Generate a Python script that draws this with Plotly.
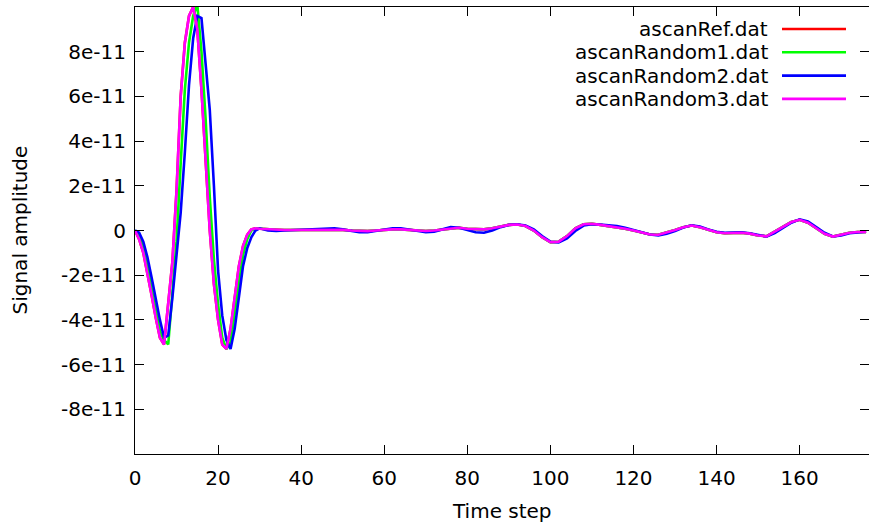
import plotly.graph_objects as go

# ---------------- data (amplitudes in units of 1e-11) ----------------
SCALE = 1e-11

time_pulse = list(range(0, 31))
time_tail = list(range(32, 177, 2))

ref_pulse = [0, -0.4, -1.0, -1.9, -2.9, -3.9, -4.8, -5.1, -3.4, -1.4, 1.8, 6.0, 8.4, 9.6, 10.0,
             9.0, 6.3, 3.0, 0.0, -2.4, -4.0, -5.1, -5.3, -4.4, -3.0, -1.6, -0.7, -0.2, 0.05, 0.1, 0.08]
rand1_pulse = [0, -0.2, -0.8, -1.6, -2.6, -3.6, -4.5, -4.9, -5.1, -2.8, -0.5, 3.0, 6.3, 8.4, 9.6,
               10.1, 8.0, 5.0, 1.5, -1.3, -3.3, -4.8, -5.3, -5.0, -3.7, -2.2, -1.1, -0.4, 0.0, 0.1, 0.08]
rand2_pulse = [0, -0.1, -0.5, -1.2, -2.1, -3.1, -4.0, -4.8, -4.7, -3.0, -1.2, 0.8, 3.5, 6.5, 8.6,
               9.6, 9.5, 7.6, 5.4, 2.0, -1.8, -3.8, -4.9, -5.3, -4.4, -3.0, -1.6, -0.8, -0.3, 0.0, 0.1]
rand3_pulse = [0, -0.4, -1.0, -1.9, -2.9, -3.9, -4.8, -5.1, -3.4, -1.4, 1.8, 6.0, 8.4, 9.6, 10.0,
               9.0, 6.3, 3.0, 0.0, -2.4, -4.0, -5.1, -5.3, -4.4, -3.0, -1.6, -0.7, -0.2, 0.05, 0.1, 0.08]

ref_tail = [0.05, 0.03, 0.02, 0.02, 0.02, 0.03, 0.04, 0.05, 0.05, 0.03, 0.0, -0.03, -0.03, 0.0,
            0.03, 0.05, 0.05, 0.03, 0.0, -0.02, 0.0, 0.05, 0.1, 0.12, 0.08, 0.05, 0.05, 0.1, 0.18,
            0.25, 0.27, 0.2, 0.0, -0.3, -0.52, -0.5, -0.25, 0.1, 0.28, 0.3, 0.25, 0.2, 0.15, 0.08,
            0.0, -0.1, -0.18, -0.19, -0.1, 0.02, 0.15, 0.22, 0.15, 0.02, -0.08, -0.12, -0.12, -0.1,
            -0.14, -0.22, -0.26, -0.05, 0.18, 0.38, 0.48, 0.35, 0.1, -0.15, -0.27, -0.2, -0.1,
            -0.07, -0.07]
rand1_tail = list(ref_tail)
rand3_tail = list(ref_tail)
rand2_tail = [0.0, -0.02, 0.0, 0.02, 0.04, 0.06, 0.08, 0.1, 0.1, 0.05, -0.03, -0.08, -0.08, -0.03,
              0.05, 0.1, 0.1, 0.05, -0.03, -0.08, -0.05, 0.05, 0.15, 0.12, 0.02, -0.08, -0.1, 0.0,
              0.15, 0.25, 0.28, 0.22, 0.05, -0.25, -0.5, -0.53, -0.35, -0.02, 0.22, 0.28, 0.27,
              0.24, 0.2, 0.12, 0.02, -0.08, -0.18, -0.22, -0.15, -0.02, 0.13, 0.23, 0.18, 0.05,
              -0.06, -0.1, -0.1, -0.08, -0.12, -0.2, -0.27, -0.12, 0.12, 0.35, 0.5, 0.4, 0.15,
              -0.1, -0.27, -0.22, -0.12, -0.07, -0.05]

series_names = ["ascanRef.dat", "ascanRandom1.dat", "ascanRandom2.dat", "ascanRandom3.dat"]
series_colors = ["#ff0000", "#00ff00", "#0000ff", "#ff00ff"]

x_ticks = [0, 20, 40, 60, 80, 100, 120, 140, 160]
y_tick_vals = [8, 6, 4, 2, 0, -2, -4, -6, -8]
y_tick_text = ["8e-11", "6e-11", "4e-11", "2e-11", "0", "-2e-11", "-4e-11", "-6e-11", "-8e-11"]

# ---------------- figure ----------------
W, H = 869, 524
ML, MR, MT, MB = 135, 0, 7, 69.5
PW, PH = W - ML - MR, H - MT - MB
FONT = "DejaVu Sans"
FS = 20

pulses = [ref_pulse, rand1_pulse, rand2_pulse, rand3_pulse]
tails = [ref_tail, rand1_tail, rand2_tail, rand3_tail]

fig = go.Figure()
for name, col, p, tl in zip(series_names, series_colors, pulses, tails):
    xs = time_pulse + time_tail
    ys = [v * SCALE for v in (p + tl)]
    fig.add_trace(go.Scatter(x=xs, y=ys, mode="lines", name=name,
                             line=dict(color=col, width=2.6), showlegend=False))

def px(xp):
    return (xp - ML) / PW

def py(yp):
    return (MT + PH - yp) / PH

# gnuplot-style key: right-aligned text followed by line sample
key_rows = [29, 52.3, 75.7, 99]
for name, col, ry in zip(series_names, series_colors, key_rows):
    fig.add_annotation(x=px(770), y=py(ry), xref="paper", yref="paper", text=name,
                       showarrow=False, xanchor="right", yanchor="middle",
                       font=dict(family=FONT, size=FS, color="black"))
    fig.add_shape(type="line", xref="paper", yref="paper", x0=px(782), x1=px(846),
                  y0=py(ry), y1=py(ry), line=dict(color=col, width=2.6))

# axis titles
fig.add_annotation(x=0.5, y=py(512), xref="paper", yref="paper", text="Time step",
                   showarrow=False, xanchor="center", yanchor="middle",
                   font=dict(family=FONT, size=FS, color="black"))
fig.add_annotation(x=px(19), y=0.5, xref="paper", yref="paper", text="Signal amplitude",
                   showarrow=False, xanchor="center", yanchor="middle", textangle=-90,
                   font=dict(family=FONT, size=FS, color="black"))

axis_common = dict(showline=True, linecolor="black", linewidth=1, mirror="ticks",
                   ticks="inside", ticklen=9, tickwidth=1, tickcolor="black",
                   showgrid=False, zeroline=False, automargin=False,
                   tickfont=dict(family=FONT, size=FS, color="black"))

fig.update_xaxes(range=[0, 176.7], tickvals=x_ticks, ticklabelstandoff=6, **axis_common)
fig.update_yaxes(range=[-1e-10, 1e-10], tickvals=[v * SCALE for v in y_tick_vals],
                 ticktext=y_tick_text, ticklabelstandoff=4, **axis_common)

fig.update_layout(width=W, height=H, margin=dict(l=ML, r=MR, t=MT, b=MB, pad=0),
                  paper_bgcolor="white", plot_bgcolor="white",
                  font=dict(family=FONT, size=FS, color="black"), showlegend=False)

fig.write_html("out.html", config={"displayModeBar": False},
               post_script="document.body.style.margin='0';document.body.style.overflow='hidden';")
